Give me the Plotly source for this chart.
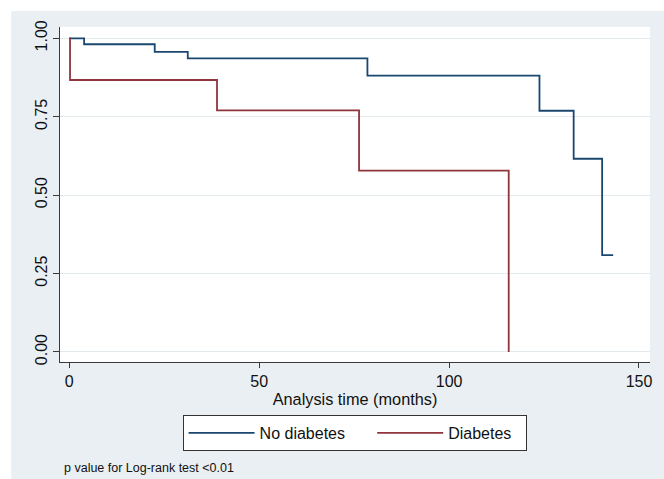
import plotly.graph_objects as go

# Kaplan-Meier step data (time in months, survival probability)
no_diab_time = [0, 3.9, 22.5, 31.2, 78.5, 123.8, 132.8, 140.3, 143.2]
no_diab_surv = [1.0, 0.981, 0.957, 0.936, 0.881, 0.769, 0.616, 0.309, 0.309]

diab_time = [0, 0.2, 38.9, 76.3, 115.7]
diab_surv = [1.0, 0.867, 0.770, 0.578, 0.0]

series_names = ["No diabetes", "Diabetes"]
series_colors = ["#1a476f", "#90353b"]

x_ticks = [0, 50, 100, 150]
y_ticks = [0, 0.25, 0.5, 0.75, 1.0]

x_title = "Analysis time (months)"
note_text = "p value for Log-rank test <0.01"

FONT = "Liberation Sans, Arial, Helvetica, sans-serif"
BG = "#e9eff3"
GRID = "#e3eaee"
AXIS = "#3a3a3a"
NBSP = "\u00a0"

fig = go.Figure()
fig.add_trace(go.Scatter(x=no_diab_time, y=no_diab_surv, mode="lines", line_shape="hv",
                         name=series_names[0] + NBSP * 5,
                         line=dict(color=series_colors[0], width=1.8)))
fig.add_trace(go.Scatter(x=diab_time, y=diab_surv, mode="lines", line_shape="hv",
                         name=series_names[1] + NBSP * 2,
                         line=dict(color=series_colors[1], width=1.8)))

W, H = 664, 479
L, R, T, B = 60, 12, 27, 117
pw, ph = W - L - R, H - T - B

def px_x(p):
    return (p - L) / pw

def px_y(p):
    return (H - B - p) / ph

fig.update_layout(
    width=W, height=H,
    margin=dict(l=L, r=R, t=T, b=B, pad=0),
    paper_bgcolor=BG,
    plot_bgcolor="white",
    font=dict(family=FONT, size=16, color="#111111"),
    showlegend=True,
    legend=dict(
        orientation="h",
        x=px_x(183), y=px_y(415), xanchor="left", yanchor="top",
        bgcolor="white", bordercolor="#333333", borderwidth=1,
        font=dict(size=16, family=FONT, color="#111111"),
        itemwidth=66,
        traceorder="normal",
    ),
    xaxis=dict(
        range=[-2.44, 152.9],
        tickmode="array", tickvals=x_ticks,
        ticks="outside", ticklen=5, tickcolor=AXIS, tickwidth=1,
        showline=True, linecolor=AXIS, linewidth=1.2,
        showgrid=False, zeroline=False,
        title=dict(text=x_title, font=dict(size=16.3), standoff=1),
        tickfont=dict(size=16),
    ),
    yaxis=dict(
        range=[-0.0319, 1.036],
        tickmode="array", tickvals=y_ticks, tickformat=".2f",
        ticks="outside", ticklen=6, tickcolor=AXIS, tickwidth=1,
        tickangle=-90,
        showline=True, linecolor=AXIS, linewidth=1.2,
        showgrid=True, gridcolor=GRID, gridwidth=1,
        zeroline=False,
        tickfont=dict(size=16),
    ),
    shapes=[
        dict(type="rect", xref="paper", yref="paper", layer="above",
             x0=px_x(-5), x1=px_x(11), y0=px_y(H + 5), y1=px_y(-5),
             fillcolor="white", line=dict(width=0)),
        dict(type="rect", xref="paper", yref="paper", layer="above",
             x0=px_x(-5), x1=px_x(W + 5), y0=px_y(11), y1=px_y(-5),
             fillcolor="white", line=dict(width=0)),
    ],
    annotations=[
        dict(text=note_text, xref="paper", yref="paper",
             x=px_x(62), y=px_y(468), xanchor="left", yanchor="middle",
             showarrow=False, font=dict(size=12.5, family=FONT, color="#111111")),
    ],
)

fig.write_html(
    "out.html",
    config={"displayModeBar": False},
    post_script="document.body.style.margin='0';document.body.style.overflow='hidden';",
)
